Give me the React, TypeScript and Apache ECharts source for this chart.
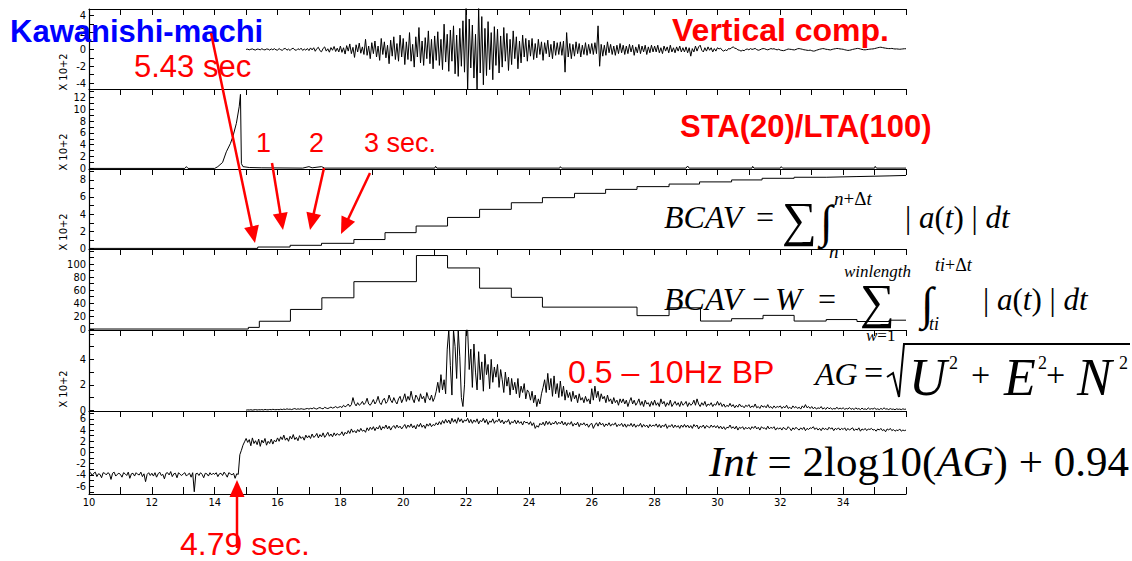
import { useEffect, useRef } from 'react';
import * as echarts from 'echarts';

// ---------------- data ----------------
const DT = 0.05;

// Vertical component (x10^2), samples every 0.05 s starting at 15.0 s
const VERT_START = 15.0;
const VERT = [
  0, 0.03, -0.05, 0.02, 0.06, -0.03, -0.07, 0.04, 0.02, -0.05, 0.08, -0.02, -0.06, 0.05, 0.03, -0.08, 0.06, -0.04, 0.09, -0.05,
  -0.08, 0.1, -0.03, -0.11, 0.07, 0.12, -0.09, 0.04, -0.13, 0.08, 0.14, -0.06, -0.1, 0.09, -0.04, 0.15, -0.12, 0.05, -0.09, 0.11,
  -0.14, 0.18, -0.06, 0.2, -0.22, 0.1, 0.25, -0.15, -0.28, 0.12, 0.3, -0.2, 0.08, -0.33, 0.22, -0.1, 0.35, -0.25, 0.15, -0.3,
  0.4, -0.35, 0.2, -0.55, 0.45, -0.2, 0.65, -0.5, 0.25, -0.95, 0.55, -0.3, 0.75, -0.45, 0.3, -0.6, 1.2, -0.7, 0.4, -1.1,
  0.8, -0.5, 1.0, -0.9, 0.4, -1.3, 1.3, -0.6, 0.9, -1.0, 0.5, -1.7, 1.1, -0.8, 1.5, -1.2, 0.7, -1.4, 1.7, -0.9,
  1.3, -1.8, 0.9, -1.2, 2.0, -1.4, 0.6, -2.1, 1.5, -0.9, 2.6, -1.6, 1.0, -1.9, 1.4, -1.1, 2.2, -1.7, 1.2, -2.3,
  1.6, -1.3, 2.1, -1.9, 1.2, -2.4, 3.0, -1.5, 1.8, -2.6, 2.3, -1.4, 2.8, -2.9, 1.7, -3.2, 2.5, -2.0, 3.4, -2.7,
  4.9, -4.9, 3.6, -2.2, 2.9, -3.4, 1.8, -4.9, 4.9, -2.8, 3.9, -4.2, 2.5, -3.1, 3.3, -2.4, 2.0, -3.6, 2.7, -1.9,
  2.4, -2.8, 1.6, -2.1, 2.6, -1.4, 1.9, -2.5, 1.2, -1.8, 2.2, -1.1, 1.5, -2.3, 1.0, -1.6, 1.7, -0.9, 1.3, -1.4,
  1.1, -0.8, 1.3, -1.2, 0.7, -1.0, 1.2, -0.6, 0.9, -1.3, 0.8, -0.5, 1.1, -0.9, 0.6, -1.1, 1.0, -0.7, 0.8, -0.6,
  0.9, -0.7, 1.0, -2.7, 2.0, -0.9, 0.7, -1.1, 0.6, -0.8, 0.9, -0.5, 0.7, -0.9, 0.5, -0.6, 0.8, -0.7, 0.6, -0.5,
  0.7, -0.6, 0.8, -0.5, 2.8, -2.0, 0.6, -0.8, 0.5, -0.7, 0.9, -0.4, 0.6, -0.6, 0.4, -0.7, 0.5, -0.5, 0.7, -0.4,
  0.5, -0.6, 0.4, -0.5, 0.6, -0.3, 0.5, -0.7, 0.3, -0.4, 0.6, -0.5, 0.4, -0.3, 0.5, -0.6, 0.3, -0.4, 0.5, -0.3,
  0.4, -0.3, 0.5, -0.4, 0.2, -0.5, 0.4, -0.2, 0.3, -0.4, 0.5, -0.3, 0.2, -0.4, 0.3, -0.2, 0.4, -0.3, 0.2, -0.3,
  0.3, -0.4, 0.2, -0.8, 0.1, -0.3, 0.4, -0.2, 0.3, 0.5, -0.1, -0.3, 0.2, -0.2, 0.3, -0.1, 0.2, -0.3, 0.1, -0.2,
  0.2, 0.05, 0.15, -0.1, -0.2, -0.05, -0.15, 0.1, 0.05, 0.2, 0.3, 0.15, 0.1, -0.05, -0.1, -0.2, -0.1, -0.15, 0.0, 0.05,
  -0.05, 0.1, 0.0, 0.05, 0.12, -0.02, -0.1, -0.05, 0.05, 0.1, 0.08, 0.0, -0.05, 0.02, 0.1, 0.05, 0.08, 0.0, -0.05, 0.02,
  -0.08, -0.12, -0.15, -0.1, -0.02, 0.05, 0.02, 0.0, -0.04, -0.06, 0.0, 0.08, 0.1, 0.06, 0.02, -0.04, -0.06, -0.1, -0.12, -0.08,
  -0.15, -0.2, -0.18, -0.1, -0.04, 0.02, 0.06, 0.1, 0.08, 0.02, 0.0, -0.04, -0.06, 0.0, 0.05, 0.08, 0.12, 0.1, 0.06, 0.04,
  0.02, -0.04, -0.08, -0.12, -0.1, -0.06, 0.0, 0.04, 0.08, 0.12, 0.1, 0.05, 0.0, -0.04, -0.05, -0.02, 0.0, 0.03, 0.05, 0.06,
  0.1, 0.15, 0.2, 0.24, 0.26, 0.22, 0.18, 0.15, 0.12, 0.1, 0.1, 0.12, 0.08, 0.05, 0.06, 0.04, 0.02, 0.04, 0.06, 0.08,
  0.08,
];

// STA(20)/LTA(100) ratio (x10^2)
const STA_T = [10, 13.05, 13.1, 13.15, 14.0, 14.1, 14.25, 14.37, 14.5, 14.58, 14.69, 14.78, 14.82, 14.85, 14.9, 15.1, 15.5, 16.8, 17.0, 17.1, 17.4, 17.5, 21.0, 21.03, 21.07, 24.98, 25.0, 25.04, 29.0, 29.05, 29.1, 31.1, 31.12, 31.16, 32.0, 32.03, 32.07, 35.0, 35.02, 35.06, 36];
const STA_V = [0, 0, 0.3, 0, 0, 0.3, 1.0, 2.8, 4.2, 5.4, 7.6, 10.4, 12.5, 0.8, 0.3, 0.15, 0.1, 0.05, 0.3, 0.1, 0.3, 0.05, 0.05, 0.35, 0.05, 0.05, 0.3, 0.05, 0.05, 0.4, 0.05, 0.05, 0.35, 0.05, 0.05, 0.3, 0.05, 0.05, 0.35, 0.05, 0.05];

// BCAV cumulative (x10^2): time of each step and value after it
const BCAV_T = [10, 15.37, 16.4, 17.4, 18.43, 19.42, 20.41, 21.41, 22.43, 23.44, 24.43, 25.45, 26.44, 27.44, 28.46, 29.43, 30.45, 31.42, 32.44, 33.46, 34.44, 35.46, 36];
const BCAV_V = [0.02, 0.18, 0.38, 0.61, 1.05, 1.85, 2.62, 3.62, 4.56, 5.33, 5.92, 6.42, 6.88, 7.2, 7.5, 7.75, 7.98, 8.17, 8.29, 8.37, 8.45, 8.5, 8.5];

// BCAV-W windowed values: time of each step and value after it
const BCAVW_T = [10, 15.07, 15.42, 16.41, 17.41, 18.43, 20.42, 21.41, 22.43, 23.44, 24.43, 27.44, 28.46, 29.46, 30.45, 31.45, 32.44, 33.46, 34.44, 35.46, 36];
const BCAVW_V = [0.5, 3, 12.4, 30.5, 48.3, 73, 113, 94, 63, 49, 34, 21, 33, 12.7, 16.3, 21.4, 12.7, 15, 12, 14, 14];

// AG, 0.5-10 Hz band-pass (x10^2), every 0.05 s from 15.0 s
const AG_START = 15.0;
const AG = [
  0.02, 0.04, 0.03, 0.05, 0.02, 0.04, 0.06, 0.03, 0.05, 0.04, 0.06, 0.03, 0.07, 0.05, 0.04, 0.07, 0.05, 0.08, 0.06, 0.05,
  0.07, 0.05, 0.09, 0.06, 0.1, 0.07, 0.12, 0.08, 0.1, 0.06, 0.11, 0.14, 0.08, 0.12, 0.09, 0.13, 0.1, 0.08, 0.12, 0.15,
  0.1, 0.16, 0.12, 0.2, 0.14, 0.1, 0.18, 0.22, 0.15, 0.12, 0.24, 0.18, 0.14, 0.2, 0.26, 0.18, 0.22, 0.3, 0.2, 0.25,
  0.3, 0.22, 0.4, 0.28, 0.35, 0.5, 0.3, 0.45, 1.0, 0.55, 0.35, 0.6, 0.4, 0.5, 0.7, 0.45, 0.6, 0.95, 0.5, 0.4,
  0.6, 0.85, 0.5, 0.7, 1.1, 0.6, 0.45, 0.8, 0.95, 0.55, 0.7, 1.2, 0.8, 0.6, 1.0, 0.7, 0.5, 0.9, 1.1, 0.6,
  0.9, 1.3, 0.7, 1.1, 0.8, 1.5, 0.9, 0.6, 1.2, 1.0, 0.7, 1.3, 0.9, 1.1, 0.6, 1.4, 1.0, 0.8, 1.2, 0.7,
  1.0, 1.5, 2.2, 1.4, 2.8, 1.6, 2.4, 1.3, 4.8, 6.3, 3.5, 1.2, 6.3, 5.0, 2.5, 6.3, 4.2, 1.0, 0.3, 2.0,
  6.3, 6.3, 3.2, 4.8, 1.8, 5.2, 3.0, 1.6, 4.6, 2.4, 3.8, 1.5, 4.4, 2.8, 3.6, 1.7, 4.0, 2.2, 3.4, 2.6,
  3.6, 1.8, 3.2, 2.4, 1.4, 3.0, 1.9, 2.6, 1.2, 2.5, 1.6, 2.2, 1.3, 2.5, 1.0, 1.9, 1.4, 2.1, 0.9, 1.6,
  1.4, 0.8, 1.5, 0.6, 1.2, 0.3, 0.9, 0.5, 1.3, 1.8, 2.4, 1.4, 2.9, 1.6, 2.5, 1.1, 2.7, 1.3, 2.1, 1.0,
  2.3, 1.1, 1.9, 0.8, 1.6, 1.0, 1.4, 0.7, 1.5, 0.9, 1.2, 0.6, 1.3, 0.8, 1.0, 0.6, 1.1, 0.7, 0.9, 0.5,
  1.7, 0.8, 1.9, 1.0, 1.5, 0.7, 1.3, 0.9, 1.1, 0.6, 1.2, 0.7, 0.9, 0.5, 1.0, 0.6, 0.8, 0.4, 0.9, 0.6,
  0.9, 0.5, 0.8, 0.3, 0.7, 1.0, 0.5, 0.8, 0.4, 0.6, 0.9, 0.4, 0.7, 0.3, 0.8, 0.5, 0.6, 0.3, 0.7, 0.4,
  0.8, 0.4, 0.6, 0.3, 0.9, 0.5, 0.7, 0.3, 0.6, 0.4, 0.8, 0.3, 0.5, 0.7, 0.4, 0.6, 0.3, 0.7, 0.4, 0.5,
  0.7, 0.3, 0.6, 0.4, 0.5, 0.8, 0.4, 0.9, 0.5, 0.3, 0.6, 0.4, 0.7, 0.3, 0.5, 0.4, 0.6, 0.3, 0.5, 0.4,
  0.7, 0.4, 0.6, 0.3, 0.5, 0.25, 0.4, 0.3, 0.55, 0.3, 0.45, 0.2, 0.4, 0.25, 0.5, 0.3, 0.35, 0.2, 0.4, 0.3,
  0.45, 0.2, 0.35, 0.25, 0.5, 0.2, 0.3, 0.15, 0.4, 0.25, 0.35, 0.2, 0.45, 0.2, 0.3, 0.15, 0.35, 0.2, 0.3, 0.25,
  0.35, 0.15, 0.3, 0.2, 0.4, 0.15, 0.25, 0.12, 0.35, 0.2, 0.3, 0.15, 0.25, 0.1, 0.35, 0.2, 0.45, 0.2, 0.3, 0.15,
  0.3, 0.12, 0.25, 0.1, 0.2, 0.15, 0.3, 0.1, 0.2, 0.08, 0.25, 0.12, 0.2, 0.08, 0.15, 0.1, 0.25, 0.1, 0.18, 0.12,
  0.2, 0.08, 0.15, 0.1, 0.22, 0.08, 0.15, 0.06, 0.2, 0.1, 0.14, 0.06, 0.18, 0.08, 0.12, 0.06, 0.2, 0.08, 0.14, 0.1,
  0.18, 0.08, 0.12, 0.06, 0.15, 0.08, 0.2, 0.1, 0.12, 0.06, 0.14, 0.08, 0.1, 0.05, 0.12, 0.08, 0.1, 0.06, 0.12, 0.08,
  0.1,
];

// Intensity trace, every 0.05 s from 10.0 s
const INT_START = 10.0;
const INT = [
  -3.8, -3.6, -4.1, -3.7, -3.5, -4.3, -3.8, -3.9, -4.5, -3.6, -3.7, -4.0, -3.6, -3.8, -4.8, -3.7, -3.5, -4.2, -3.9, -3.7,
  -3.9, -4.4, -3.6, -3.8, -4.1, -3.5, -4.6, -3.8, -3.7, -4.2, -3.6, -3.9, -4.0, -3.5, -4.3, -3.8, -5.2, -3.9, -3.6, -4.1,
  -3.7, -4.2, -3.6, -4.4, -3.8, -3.5, -4.1, -3.9, -4.7, -3.7, -3.6, -4.0, -3.4, -4.3, -3.8, -3.7, -4.5, -3.6, -3.9, -4.1,
  -3.8, -3.6, -4.2, -3.9, -3.7, -4.4, -3.6, -7.0, -3.8, -3.7, -4.1, -3.6, -3.9, -4.5, -3.7, -3.8, -4.2, -3.6, -4.0, -3.7,
  -3.9, -3.6, -4.3, -3.8, -3.7, -4.1, -3.5, -3.9, -4.4, -3.6, -3.8, -4.0, -3.7, -4.6, -3.8, -3.9, -0.4, 0.4, 1.3, 1.9,
  2.5, 1.8, 2.3, 1.2, 2.6, 1.6, 2.1, 1.4, 2.4, 1.1, 2.2, 1.7, 2.5, 1.3, 2.0, 1.6, 2.4, 1.5, 2.2, 1.9,
  2.6, 2.0, 2.8, 2.3, 3.1, 2.2, 2.6, 2.0, 2.9, 2.4, 3.2, 2.3, 2.7, 2.1, 3.0, 2.5, 2.8, 2.2, 3.1, 2.6,
  3.0, 2.5, 3.3, 2.7, 2.9, 3.4, 2.6, 3.2, 2.8, 3.5, 2.7, 3.1, 3.6, 2.9, 3.3, 2.8, 3.5, 3.0, 3.4, 3.1,
  3.2, 3.7, 3.0, 3.6, 3.3, 3.9, 3.4, 4.2, 3.6, 3.9, 3.5, 4.1, 3.7, 4.3, 3.8, 4.0, 3.6, 4.4, 3.9, 4.5,
  4.1, 4.6, 3.9, 4.5, 4.2, 4.8, 4.0, 4.6, 4.3, 4.9, 4.2, 4.7, 4.0, 4.5, 4.8, 4.3, 4.9, 4.4, 4.7, 4.2,
  4.6, 5.0, 4.3, 4.9, 4.5, 5.1, 4.4, 4.8, 4.2, 5.0, 4.6, 5.2, 4.5, 4.9, 4.3, 5.1, 4.7, 5.2, 4.6, 5.0,
  4.8, 5.3, 4.9, 5.5, 5.0, 5.7, 5.2, 5.9, 5.3, 5.8, 5.1, 6.1, 5.4, 5.9, 5.2, 6.2, 5.5, 6.0, 5.3, 5.8,
  5.6, 6.1, 5.3, 5.9, 5.2, 5.8, 5.4, 6.0, 5.1, 5.7, 5.5, 6.1, 5.3, 5.9, 5.0, 5.6, 5.4, 6.0, 5.2, 5.7,
  5.5, 6.0, 5.3, 5.8, 5.1, 5.6, 5.4, 5.9, 5.0, 5.5, 5.3, 5.8, 5.1, 5.7, 5.2, 5.5, 4.9, 5.6, 5.3, 5.4,
  5.0, 5.5, 4.8, 5.3, 4.3, 4.8, 4.5, 5.2, 4.9, 5.4, 4.8, 5.6, 5.0, 5.5, 4.9, 5.3, 5.1, 5.6, 5.0, 5.4,
  5.1, 5.6, 4.9, 5.4, 4.8, 5.3, 5.0, 5.5, 4.7, 5.2, 4.9, 5.4, 4.6, 5.2, 4.9, 5.3, 4.8, 5.1, 4.5, 5.0,
  5.2, 4.3, 4.9, 5.3, 4.7, 5.4, 4.9, 5.2, 4.6, 5.1, 4.8, 5.3, 4.7, 5.1, 4.9, 5.3, 4.6, 5.0, 4.8, 5.2,
  4.6, 5.1, 4.5, 5.0, 4.7, 5.2, 4.6, 5.1, 4.5, 4.9, 4.7, 5.2, 4.5, 5.0, 4.6, 4.9, 4.4, 5.0, 4.6, 4.9,
  4.7, 5.1, 4.5, 5.0, 4.4, 4.9, 4.6, 5.1, 4.3, 4.8, 4.6, 5.0, 4.4, 4.9, 4.5, 4.8, 4.3, 4.9, 4.5, 5.0,
  4.5, 4.9, 4.4, 4.8, 4.3, 5.0, 4.6, 4.9, 4.2, 4.7, 4.5, 4.9, 4.3, 4.8, 4.6, 4.4, 4.9, 4.5, 4.8, 4.4,
  4.8, 4.3, 4.7, 4.2, 4.6, 4.1, 4.5, 4.4, 4.9, 4.3, 4.6, 4.2, 4.7, 4.0, 4.5, 4.3, 4.6, 4.1, 4.5, 4.2,
  4.5, 4.1, 4.6, 4.3, 4.7, 4.2, 4.5, 4.0, 4.6, 4.3, 4.4, 4.1, 4.7, 4.2, 4.5, 4.3, 4.6, 4.0, 4.4, 4.2,
  4.4, 4.0, 4.5, 4.2, 4.1, 4.6, 4.3, 3.9, 4.4, 4.1, 4.5, 4.2, 4.0, 4.4, 4.1, 4.5, 3.9, 4.3, 4.1, 4.4,
  4.3, 4.6, 4.1, 4.4, 4.0, 4.3, 3.9, 4.4, 4.1, 4.3, 4.0, 4.5, 4.2, 4.4, 3.9, 4.3, 4.1, 4.4, 4.0, 4.3,
  4.1, 4.4, 3.9, 4.3, 4.0, 4.2, 4.4, 3.9, 4.2, 4.0, 4.4, 3.8, 4.2, 4.0, 4.3, 3.9, 4.2, 4.1, 4.3, 4.0,
  4.1, 3.8, 4.2, 4.0, 4.3, 3.9, 4.1, 3.7, 4.2, 4.0, 4.3, 3.9, 4.1, 3.8, 4.0, 3.9, 4.2, 3.8, 4.0, 3.9,
  4.0,
];

const X_LABELS = [10, 12, 14, 16, 18, 20, 22, 24, 26, 28, 30, 32, 34];
const Y_LABELS = [
  [-4, -2, 0, 2, 4],
  [0, 2, 4, 6, 8, 10, 12],
  [0, 2, 4, 6, 8],
  [0, 20, 40, 60, 80, 100],
  [0, 2, 4],
  [-6, -4, -2, 0, 2, 4, 6],
];
const Y_TICKS = [
  [-4, -3, -2, -1, 0, 1, 2, 3, 4],
  [0, 1, 2, 3, 4, 5, 6, 7, 8, 9, 10, 11, 12, 13],
  [0, 1, 2, 3, 4, 5, 6, 7, 8, 9],
  [0, 10, 20, 30, 40, 50, 60, 70, 80, 90, 100, 110, 120],
  [0, 1, 2, 3, 4, 5, 6],
  [-7, -6, -5, -4, -3, -2, -1, 0, 1, 2, 3, 4, 5, 6, 7],
];
const Y_RANGE = [
  [-4.7, 4.8],
  [-0.1, 13.4],
  [-0.05, 9.25],
  [-1, 123],
  [-0.05, 6.3],
  [-7.4, 7.4],
];

// ---------------- layout / styles ----------------
const PANEL_GEOM = [
  { top: 9, h: 80, unit: 72 },
  { top: 89, h: 80, unit: 152 },
  { top: 169, h: 80, unit: 232 },
  { top: 249, h: 81, unit: 0 },
  { top: 330, h: 81, unit: 389 },
  { top: 411, h: 83, unit: 0 },
];
const SANS = '"Liberation Sans", Arial, Helvetica, sans-serif';
const SERIF = '"Liberation Serif", "Times New Roman", serif';
const NARROW = '"Liberation Sans Narrow", "DejaVu Sans Condensed", "Arial Narrow", sans-serif';
const RED = '#ff0000';

function txt(text: string, x: number, base: number, size: number, o: any = {}) {
  const style: any = {
    text,
    fontSize: size,
    fontFamily: o.family || SERIF,
    fontStyle: o.italic ? 'italic' : 'normal',
    fontWeight: o.bold ? 'bold' : 'normal',
    fill: o.color || '#000',
    align: 'left',
    verticalAlign: 'middle',
    textAlign: 'left',
    textVerticalAlign: 'middle',
  };
  if (o.rich) style.rich = o.rich;
  return { type: 'text', x, y: base - 0.34 * size, z: 100, style };
}

function arrow(x1: number, y1: number, x2: number, y2: number) {
  const dx = x2 - x1, dy = y2 - y1;
  const L = Math.hypot(dx, dy);
  const ux = dx / L, uy = dy / L;
  const hl = 17, hw = 7.5;
  const bx = x2 - ux * hl, by = y2 - uy * hl;
  return [
    { type: 'line', z: 110, shape: { x1, y1, x2: bx + ux * 2, y2: by + uy * 2 }, style: { stroke: RED, lineWidth: 2.5 } },
    { type: 'polygon', z: 110, shape: { points: [[x2, y2], [bx - uy * hw, by + ux * hw], [bx + uy * hw, by - ux * hw]] }, style: { fill: RED } },
  ];
}

function richItalic(size: number) {
  return {
    i: { fontSize: size, fontFamily: SERIF, fontStyle: 'italic', fill: '#000' },
    r: { fontSize: size, fontFamily: SERIF, fontStyle: 'normal', fill: '#000' },
  };
}

function series(points: number[][], xi: number, yi: number, step?: string) {
  const s: any = {
    type: 'line',
    xAxisIndex: xi,
    yAxisIndex: yi,
    data: points,
    symbol: 'none',
    showSymbol: false,
    lineStyle: { color: '#000', width: 1 },
    silent: true,
    animation: false,
  };
  if (step) s.step = step;
  return s;
}

export default function App() {
  const ref = useRef<HTMLDivElement>(null);

  useEffect(() => {
    if (!ref.current) return;
    const chart = echarts.init(ref.current, undefined, { renderer: 'svg' });

    const grids = PANEL_GEOM.map((p) => ({ left: 89, width: 817, top: p.top, height: p.h }));

    const xAxes: any[] = PANEL_GEOM.map((_, i) => ({
      type: 'value',
      gridIndex: i,
      min: 10,
      max: 36,
      interval: 1,
      position: 'top',
      axisLine: { show: true, onZero: false, lineStyle: { color: '#000', width: 1.2 } },
      axisTick: { show: true, inside: true, length: 6, lineStyle: { color: '#000' } },
      axisLabel: { show: false },
      splitLine: { show: false },
    }));
    xAxes.push({
      type: 'value',
      gridIndex: 5,
      min: 10,
      max: 36,
      interval: 1,
      position: 'bottom',
      axisLine: { show: true, onZero: false, lineStyle: { color: '#000', width: 1.2 } },
      axisTick: { show: true, inside: true, length: 7, lineStyle: { color: '#000' } },
      axisLabel: {
        show: true,
        customValues: X_LABELS,
        formatter: (v: number) => (X_LABELS.indexOf(v) >= 0 ? String(v) : ''),
        fontSize: 11,
        fontFamily: NARROW,
        color: '#000',
        margin: 3,
      },
      splitLine: { show: false },
    });

    const yAxes = PANEL_GEOM.map((_, i) => ({
      type: 'value',
      gridIndex: i,
      min: Y_RANGE[i][0],
      max: Y_RANGE[i][1],
      position: 'left',
      axisLine: { show: true, onZero: false, lineStyle: { color: '#000', width: 1.2 } },
      axisTick: { show: true, inside: true, length: 5, customValues: Y_TICKS[i], lineStyle: { color: '#000' } },
      axisLabel: {
        show: true,
        customValues: Y_LABELS[i],
        fontSize: 11,
        fontFamily: NARROW,
        color: '#000',
        margin: 3,
        formatter: (v: number) => String(v),
      },
      splitLine: { show: false },
    }));

    const vertPts = VERT.map((v, i) => [+(VERT_START + i * DT).toFixed(2), v]);
    const staPts = STA_T.map((t, i) => [t, STA_V[i]]);
    const bcavPts = BCAV_T.map((t, i) => [t, BCAV_V[i]]);
    const bcavwPts = BCAVW_T.map((t, i) => [t, BCAVW_V[i]]);
    const agPts = AG.map((v, i) => [+(AG_START + i * DT).toFixed(2), v]);
    const intPts = INT.map((v, i) => [+(INT_START + i * DT).toFixed(2), v]);

    const graphics: any[] = [];
    PANEL_GEOM.forEach((p) => {
      if (!p.unit) return;
      graphics.push({
        type: 'text',
        x: 63,
        y: p.unit,
        rotation: Math.PI / 2,
        z: 50,
        style: {
          text: 'X 10+2',
          fontSize: 11,
          fontFamily: NARROW,
          fill: '#000',
          align: 'center',
          verticalAlign: 'middle',
          textAlign: 'center',
          textVerticalAlign: 'middle',
        },
      });
    });

    // annotation texts
    graphics.push(txt('Kawanishi-machi', 10, 42, 31, { family: SANS, bold: true, color: '#0000ff' }));
    graphics.push(txt('Vertical comp.', 672, 41, 32, { family: SANS, bold: true, color: RED }));
    graphics.push(txt('5.43 sec', 134, 77, 31, { family: SANS, color: RED }));
    graphics.push(txt('STA(20)/LTA(100)', 680, 137, 31, { family: SANS, bold: true, color: RED }));
    graphics.push(txt('1', 256, 152, 27, { family: SANS, color: RED }));
    graphics.push(txt('2', 309, 152, 27, { family: SANS, color: RED }));
    graphics.push(txt('3 sec.', 364, 152, 27, { family: SANS, color: RED }));
    graphics.push(txt('0.5 \u2013 10Hz BP', 568, 383, 32, { family: SANS, color: RED }));
    graphics.push(txt('4.79 sec.', 180, 555, 32, { family: SANS, color: RED }));

    // formula 1: BCAV
    graphics.push(txt('BCAV', 664, 228, 32, { italic: true }));
    graphics.push(txt('=', 756, 228, 32));
    graphics.push(txt('\u2211', 782, 236, 49));
    graphics.push(txt('\u222B', 820, 237, 46));
    graphics.push(txt('{i|n}{r|+\u0394}{i|t}', 834, 205, 19, { rich: richItalic(19) }));
    graphics.push(txt('n', 829, 258, 19, { italic: true }));
    graphics.push(txt('{r|| }{i|a}{r|(}{i|t}{r|) | }{i|dt}', 905, 228, 31, { rich: richItalic(31) }));

    // formula 2: BCAV-W
    graphics.push(txt('BCAV', 664, 310, 32, { italic: true }));
    graphics.push(txt('\u2212', 752, 310, 32));
    graphics.push(txt('W', 775, 310, 32, { italic: true }));
    graphics.push(txt('=', 818, 310, 32));
    graphics.push(txt('winlength', 844, 277, 17, { italic: true }));
    graphics.push(txt('\u2211', 860, 318, 49));
    graphics.push(txt('{i|w}{r|=1}', 866, 341, 17, { rich: richItalic(17) }));
    graphics.push(txt('\u222B', 921, 319, 46));
    graphics.push(txt('{i|ti}{r|+\u0394}{i|t}', 935, 271, 18, { rich: richItalic(18) }));
    graphics.push(txt('ti', 929, 330, 18, { italic: true }));
    graphics.push(txt('{r|| }{i|a}{r|(}{i|t}{r|) | }{i|dt}', 983, 310, 31, { rich: richItalic(31) }));

    // formula 3: AG
    graphics.push(txt('AG', 815, 385, 32, { italic: true }));
    graphics.push(txt('=', 864, 384, 34));
    graphics.push({
      type: 'polyline',
      z: 100,
      shape: { points: [[887, 377], [893, 373], [899, 397], [904, 344], [1130, 344]] },
      style: { stroke: '#000', lineWidth: 2, fill: 'none' },
    });
    graphics.push(txt('U', 909, 395, 52, { italic: true }));
    graphics.push(txt('2', 949, 369, 18));
    graphics.push(txt('+', 971, 386, 34));
    graphics.push(txt('E', 1004, 395, 52, { italic: true }));
    graphics.push(txt('2', 1038, 369, 18));
    graphics.push(txt('+', 1046, 386, 34));
    graphics.push(txt('N', 1077, 395, 52, { italic: true }));
    graphics.push(txt('2', 1119, 369, 18));

    // formula 4: Int
    graphics.push(txt('{i|Int}{r| = 2log10(}{i|AG}{r|) + 0.94}', 709, 476, 43, { rich: richItalic(43) }));

    // arrows
    graphics.push(...arrow(211, 33, 255, 243));
    graphics.push(...arrow(272, 163, 283, 230));
    graphics.push(...arrow(324, 168, 310, 230));
    graphics.push(...arrow(370, 173, 341, 234));
    graphics.push(...arrow(237, 548, 237, 480));

    const option: any = {
      animation: false,
      backgroundColor: '#fff',
      grid: grids,
      xAxis: xAxes,
      yAxis: yAxes,
      series: [
        series(vertPts, 0, 0),
        series(staPts, 1, 1),
        series(bcavPts, 2, 2, 'end'),
        series(bcavwPts, 3, 3, 'end'),
        series(agPts, 4, 4),
        series(intPts, 5, 5),
      ],
      graphic: { elements: graphics },
    };
    chart.setOption(option);
    return () => chart.dispose();
  }, []);

  return (
    <div
      ref={ref}
      style={{ position: 'fixed', left: 0, top: 0, width: 1132, height: 561, background: '#fff' }}
    />
  );
}
